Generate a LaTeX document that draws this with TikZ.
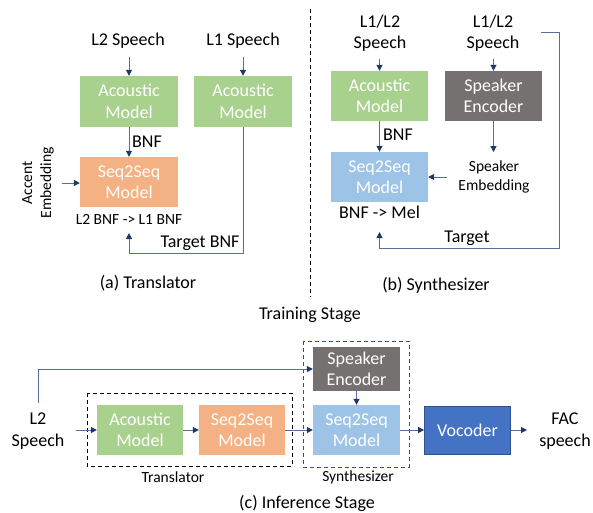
\documentclass[tikz,border=0pt]{standalone}
\usepackage{fontspec}
\setmainfont{Carlito}
\usetikzlibrary{arrows.meta}
\definecolor{cgreen}{HTML}{A9D18E}
\definecolor{corange}{HTML}{F4B183}
\definecolor{cblue}{HTML}{9DC3E6}
\definecolor{cgray}{HTML}{767171}
\definecolor{cvoc}{HTML}{4472C4}
\definecolor{cvocb}{HTML}{2F528F}
\definecolor{cline}{HTML}{5A6E9A}
\definecolor{chead}{HTML}{1F3864}
\tikzset{
  box/.style={draw=none, minimum width=#1, inner sep=0pt, align=center, text=white,
    font=\fontsize{18}{21.5}\selectfont},
  lbl/.style={align=center, inner sep=0pt, font=\fontsize{18}{21.5}\selectfont},
  slbl/.style={align=center, inner sep=0pt, font=\fontsize{15.5}{19}\selectfont},
  conn/.style={draw=cline, line width=1pt},
  arr/.style={conn, -{Triangle[length=6pt,width=6pt,fill=chead,color=chead]}},
}
\begin{document}
\begin{tikzpicture}[x=1pt,y=-1pt]
\useasboundingbox (0,0) rectangle (593,512);
% ---------------- (a) Translator ----------------
\node[lbl] (l2a) at (128,41) {L2 Speech};
\node[lbl] (l1a) at (243,41) {L1 Speech};
\node[box=98pt, fill=cgreen, minimum height=51pt] (ama) at (129,101.5) {Acoustic\\Model};
\node[box=98pt, fill=cgreen, minimum height=51pt] (amb) at (243,101.5) {Acoustic\\Model};
\node[box=98pt, fill=corange, minimum height=50pt] (ssa) at (129,182) {Seq2Seq\\Model};
\coordinate (l2aa) at (129,57);
\coordinate (l1aa) at (243,57);
\draw[arr] (l2aa) -- (ama.north);
\draw[arr] (l1aa) -- (amb.north);
\draw[arr] (ama.south) -- (ssa.north);
\node[lbl, anchor=west] (bnfa) at (132,142) {BNF};
\node[slbl, rotate=90] (acc) at (38,183) {Accent\\Embedding};
\coordinate (acca) at (62,183);
\draw[arr] (acca) -- (acca -| ssa.west);
\node[slbl] (mapa) at (129,219) {L2 BNF -> L1 BNF};
\coordinate (tga) at (243,253);
\coordinate (tgb) at (129,253);
\coordinate (tgc) at (129,233);
\draw[arr] (amb.south) -- (tga) -- (tgb) -- (tgc);
\node[lbl] (tbnf) at (200,243) {Target BNF};
\node[lbl] (capa) at (148,283) {(a) Translator};
% divider
\coordinate (dv1) at (310,9);
\coordinate (dv2) at (310,297);
\draw[black, line width=0.9pt, dash pattern=on 4pt off 3pt] (dv1) -- (dv2);
% ---------------- (b) Synthesizer ----------------
\node[lbl] (sp1) at (380,33) {L1/L2\\Speech};
\node[lbl] (sp2) at (493,33) {L1/L2\\Speech};
\node[box=97pt, fill=cgreen, minimum height=50pt] (amc) at (379.5,96) {Acoustic\\Model};
\node[box=97pt, fill=cgray, minimum height=50pt] (seb) at (493.5,96) {Speaker\\Encoder};
\node[box=97pt, fill=cblue, minimum height=50pt] (ssb) at (379.5,177) {Seq2Seq\\Model};
\coordinate (sp1a) at (379.5,59);
\coordinate (sp2a) at (493.5,59);
\draw[arr] (sp1a) -- (amc.north);
\draw[arr] (sp2a) -- (seb.north);
\draw[arr] (amc.south) -- (ssb.north);
\node[lbl, anchor=west] (bnfb) at (383,135) {BNF};
\node[slbl] (spe) at (494,177) {Speaker\\Embedding};
\coordinate (spet) at (493.5,152);
\draw[arr] (seb.south) -- (spet);
\coordinate (spel) at (447,177);
\draw[arr] (spel) -- (ssb.east);
\node[lbl] (mapb) at (379.5,212) {BNF -> Mel};
\coordinate (tb0) at (541,32);
\coordinate (tb1) at (559,32);
\coordinate (tb2) at (559,248);
\coordinate (tb3) at (379.5,248);
\coordinate (tb4) at (379.5,232);
\draw[arr] (tb0) -- (tb1) -- (tb2) -- (tb3) -- (tb4);
\node[lbl] (tgtb) at (467,238) {Target};
\node[lbl] (capb) at (436,285) {(b) Synthesizer};
\node[lbl] (train) at (310,315) {Training Stage};
% ---------------- (c) Inference ----------------
\draw[black, line width=0.9pt, dash pattern=on 4pt off 3pt] (87,393) rectangle (292,466);
\draw[cvocb, line width=0.9pt, dash pattern=on 4pt off 3pt] (303,341) rectangle (409,467);
\node[lbl] (l2c) at (38,431) {L2\\Speech};
\node[box=86pt, fill=cgreen, minimum height=50pt] (amd) at (140,430) {Acoustic\\Model};
\node[box=86pt, fill=corange, minimum height=50pt] (ssc) at (242,430) {Seq2Seq\\Model};
\node[box=87pt, fill=cgray, minimum height=44pt] (sec) at (356.5,369) {Speaker\\Encoder};
\node[box=87pt, fill=cblue, minimum height=50pt] (ssd) at (356.5,430) {Seq2Seq\\Model};
\node[box=86pt, fill=cvoc, draw=cvocb, line width=0.8pt, minimum height=48pt] (voc) at (467.5,430) {Vocoder};
\node[lbl] (fac) at (565,431) {FAC\\speech};
\node[slbl] (trl) at (173,477) {Translator};
\node[slbl] (syl) at (358,477) {Synthesizer};
\node[lbl] (capc) at (307,503) {(c) Inference Stage};
\coordinate (c0) at (38,403);
\coordinate (c1) at (38,369);
\draw[arr] (c0) -- (c1) -- (sec.west);
\coordinate (c2) at (76,430);
\draw[arr] (c2) -- (amd.west);
\draw[arr] (amd.east) -- (ssc.west);
\draw[arr] (ssc.east) -- (ssd.west);
\draw[arr] (sec.south) -- (ssd.north);
\draw[arr] (ssd.east) -- (voc.west);
\coordinate (c3) at (527,430);
\draw[arr] (voc.east) -- (c3);
\end{tikzpicture}
\end{document}
